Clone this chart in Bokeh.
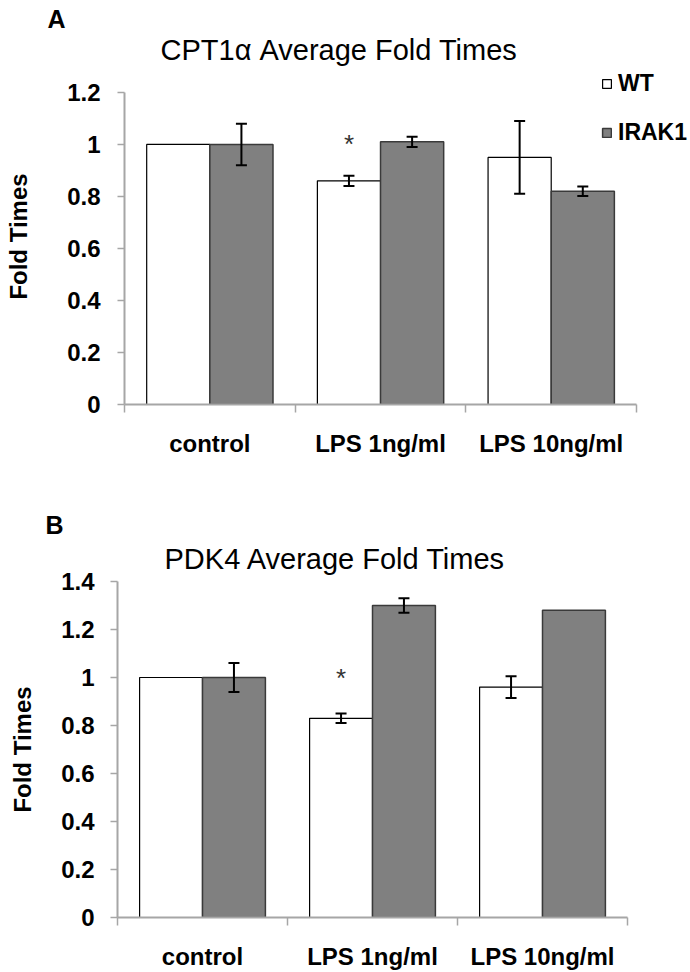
from bokeh.plotting import figure
from bokeh.models import (Range1d, FixedTicker, ColumnDataSource, Whisker, TeeHead,
                          Title, Legend, LegendItem)
from bokeh.core.properties import value
from bokeh.embed import file_html
from bokeh.resources import INLINE

# ---------------- data ----------------
categories = ["control", "LPS 1ng/ml", "LPS 10ng/ml"]
series_names = ["WT", "IRAK1"]

cpt_wt = [1.00, 0.86, 0.95]
cpt_wt_err = [0.00, 0.02, 0.14]
cpt_irak = [1.00, 1.01, 0.82]
cpt_irak_err = [0.08, 0.02, 0.018]
cpt_star = [False, True, False]
cpt_yticks = [0, 0.2, 0.4, 0.6, 0.8, 1, 1.2]
cpt_ytick_labels = ["0", "0.2", "0.4", "0.6", "0.8", "1", "1.2"]

pdk_wt = [1.00, 0.83, 0.96]
pdk_wt_err = [0.00, 0.02, 0.045]
pdk_irak = [1.00, 1.30, 1.28]
pdk_irak_err = [0.06, 0.03, 0.00]
pdk_star = [False, True, False]
pdk_yticks = [0, 0.2, 0.4, 0.6, 0.8, 1, 1.2, 1.4]
pdk_ytick_labels = ["0", "0.2", "0.4", "0.6", "0.8", "1", "1.2", "1.4"]

FONT = "Liberation Sans"
AXIS_GRAY = "#a6a6a6"
BAR_W = 0.37


def make_panel(title, letter, wt, wt_err, irak, irak_err, star, yticks, ylabels,
               height, border, x_view_max, y_view_max, title_offset, title_standoff,
               letter_offset, letter_standoff, ylab_standoff, ylab_axis_standoff,
               legend):
    left, right, top, bottom = border
    n = len(categories)
    p = figure(width=690, height=height, output_backend="svg", toolbar_location=None,
               x_range=Range1d(0, x_view_max), y_range=Range1d(0, y_view_max),
               min_border_left=left, min_border_right=right,
               min_border_top=top, min_border_bottom=bottom,
               background_fill_color="white", border_fill_color="white")
    p.outline_line_color = None
    p.xgrid.visible = False
    p.ygrid.visible = False

    # panel letter (outermost title)
    p.title.text = letter
    p.title.text_font = FONT
    p.title.text_font_size = "25px"
    p.title.text_font_style = "bold"
    p.title.text_color = "black"
    p.title.align = "left"
    p.title.offset = letter_offset
    p.title.standoff = letter_standoff

    # chart title (next to the plot area)
    p.add_layout(Title(text=title, text_font=FONT, text_font_style="normal",
                       text_font_size="29px", text_color="black", align="left",
                       offset=title_offset, standoff=title_standoff), "above")

    centers = [i + 0.5 for i in range(n)]
    wt_x = [c - BAR_W / 2 for c in centers]
    ir_x = [c + BAR_W / 2 for c in centers]

    src_wt = ColumnDataSource(dict(x=wt_x, top=wt))
    src_ir = ColumnDataSource(dict(x=ir_x, top=irak))
    r_wt = p.vbar(x="x", top="top", width=BAR_W, source=src_wt,
                  fill_color="white", line_color="black", line_width=1.2)
    r_ir = p.vbar(x="x", top="top", width=BAR_W, source=src_ir,
                  fill_color="#808080", line_color="#3a3a3a", line_width=1.5)

    # error bars (drawn over the bars)
    ex, up, lo = [], [], []
    for xs, vals, errs in ((wt_x, wt, wt_err), (ir_x, irak, irak_err)):
        for xv, v, e in zip(xs, vals, errs):
            if e > 0:
                ex.append(xv)
                up.append(v + e)
                lo.append(v - e)
    esrc = ColumnDataSource(dict(base=ex, upper=up, lower=lo))
    w = Whisker(base="base", upper="upper", lower="lower", source=esrc,
                line_color="black", line_width=2, level="overlay",
                upper_head=TeeHead(size=11, line_width=2, line_color="black"),
                lower_head=TeeHead(size=11, line_width=2, line_color="black"))
    p.add_layout(w)

    # significance asterisks
    sx = [x for x, s in zip(wt_x, star) if s]
    p.text(x=sx, y=[1.0] * len(sx), text=["*"] * len(sx), text_align="center",
           text_baseline="middle", text_font=value(FONT), text_font_size="26px",
           text_color="#333333")

    # x axis (category labels between boundary ticks)
    xa = p.xaxis[0]
    xa.bounds = (0, n)
    xa.ticker = FixedTicker(ticks=centers, minor_ticks=list(range(n + 1)))
    xa.major_label_overrides = {c: nm for c, nm in zip(centers, categories)}
    xa.major_tick_line_color = None
    xa.major_tick_out = 0
    xa.minor_tick_in = 0
    xa.minor_tick_out = 8
    xa.minor_tick_line_color = AXIS_GRAY
    xa.minor_tick_line_width = 1.5
    xa.axis_line_color = AXIS_GRAY
    xa.axis_line_width = 2
    xa.major_label_standoff = 17
    xa.major_label_text_font = FONT
    xa.major_label_text_font_style = "bold"
    xa.major_label_text_font_size = "24px"
    xa.major_label_text_color = "black"

    ya = p.yaxis[0]
    ya.bounds = (yticks[0], yticks[-1])
    ya.ticker = FixedTicker(ticks=yticks, minor_ticks=[])
    ya.major_label_overrides = {t: l for t, l in zip(yticks, ylabels)}
    ya.major_tick_in = 0
    ya.major_tick_out = 7
    ya.major_tick_line_color = AXIS_GRAY
    ya.major_tick_line_width = 1.5
    ya.axis_line_color = AXIS_GRAY
    ya.axis_line_width = 2
    ya.major_label_standoff = ylab_standoff
    ya.major_label_text_font = FONT
    ya.major_label_text_font_style = "bold"
    ya.major_label_text_font_size = "24px"
    ya.major_label_text_color = "black"
    ya.axis_label = "Fold Times"
    ya.axis_label_text_font = FONT
    ya.axis_label_text_font_style = "bold"
    ya.axis_label_text_font_size = "24px"
    ya.axis_label_text_color = "black"
    ya.axis_label_standoff = ylab_axis_standoff

    if legend is not None:
        leg = Legend(items=[LegendItem(label=series_names[0], renderers=[r_wt]),
                            LegendItem(label=series_names[1], renderers=[r_ir])],
                     location=legend, orientation="vertical",
                     glyph_width=11, glyph_height=11, label_standoff=6,
                     label_text_font=FONT, label_text_font_style="bold",
                     label_text_font_size="23px", label_text_color="black",
                     spacing=22, padding=0, margin=0,
                     border_line_color=None, background_fill_alpha=0)
        p.add_layout(leg, "center")
    return p


pA = make_panel("CPT1\u03b1 Average Fold Times", "A", cpt_wt, cpt_wt_err, cpt_irak,
                cpt_irak_err, cpt_star, cpt_yticks, cpt_ytick_labels,
                height=470, border=(124, 0, 68, 66), x_view_max=3.316, y_view_max=1.292,
                title_offset=36, title_standoff=5, letter_offset=-77, letter_standoff=-7,
                ylab_standoff=17, ylab_axis_standoff=32, legend=(477, 258))
pB = make_panel("PDK4 Average Fold Times", "B", pdk_wt, pdk_wt_err, pdk_irak,
                pdk_irak_err, pdk_star, pdk_yticks, pdk_ytick_labels,
                height=502, border=(117, 63, 111, 54), x_view_max=3, y_view_max=1.4,
                title_offset=47, title_standoff=14, letter_offset=-72, letter_standoff=-10,
                ylab_standoff=16, ylab_axis_standoff=22, legend=None)

# two independent roots, stacked on the page (keeps each panel's own plot-area geometry)
open("out.html", "w").write(file_html([pA, pB], INLINE))
